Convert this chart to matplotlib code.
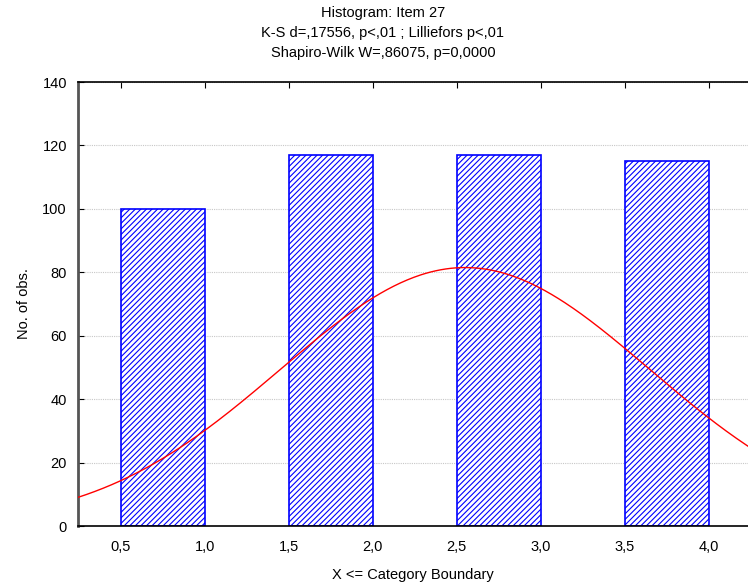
import numpy as np
import matplotlib
matplotlib.use("Agg")
import matplotlib.pyplot as plt
from matplotlib import font_manager

names = {f.name for f in font_manager.fontManager.ttflist}
fam = ['Liberation Sans Narrow'] if 'Liberation Sans Narrow' in names else ['Liberation Sans']
plt.rcParams['font.family'] = fam + ['DejaVu Sans']
plt.rcParams['hatch.color'] = '#0000ff'
plt.rcParams['hatch.linewidth'] = 0.8

# data
bin_left = [0.5, 1.5, 2.5, 3.5]
bin_width = 0.5
counts = [100, 117, 117, 115]
category_values = [1, 2, 3, 4]
xticks = [0.5, 1.0, 1.5, 2.0, 2.5, 3.0, 3.5, 4.0]
xtick_labels = ['0,5', '1,0', '1,5', '2,0', '2,5', '3,0', '3,5', '4,0']
yticks = [0, 20, 40, 60, 80, 100, 120, 140]
title = "Histogram: Item 27\nK-S d=,17556, p<,01 ; Lilliefors p<,01\nShapiro-Wilk W=,86075, p=0,0000"

# fitted normal curve (from the category counts)
vals = np.repeat(category_values, counts)
n = len(vals)
mu = vals.mean()
sd = vals.std(ddof=1)

fig = plt.figure(figsize=(7.48, 5.84), dpi=100)
ax = fig.add_axes([78/748, 1 - 526/584, 1 - 78/748, 444/584])

ax.bar(bin_left, counts, width=bin_width, align='edge', facecolor='white',
       edgecolor='#0000ff', hatch='//////', linewidth=1.2, zorder=2)

xlim = (0.245, 4.235)
xs = np.linspace(xlim[0], xlim[1], 400)
ys = n * bin_width / (sd * np.sqrt(2 * np.pi)) * np.exp(-0.5 * ((xs - mu) / sd) ** 2)
ax.plot(xs, ys, color='#ff0000', linewidth=1.0, zorder=3)

ax.set_xlim(*xlim)
ax.set_ylim(0, 140)
ax.set_xticks(xticks)
ax.set_xticklabels(xtick_labels)
ax.set_yticks(yticks)
ax.yaxis.grid(True, linestyle=(0, (1, 1)), color='#c8c8c8', linewidth=0.8, zorder=0)
ax.set_axisbelow(True)
ax.tick_params(axis='both', direction='in', labelsize=10.5, length=4, pad=8,
               top=True, colors='black')
ax.tick_params(axis='x', bottom=False, pad=10)
ax.spines['right'].set_visible(False)
ax.spines['left'].set_color('#555555')
ax.spines['left'].set_linewidth(2)
ax.spines['bottom'].set_linewidth(1.2)
ax.spines['top'].set_linewidth(1.2)

ax.set_xlabel('X <= Category Boundary', fontsize=10.5, labelpad=10)
ax.set_ylabel('No. of obs.', fontsize=10.5, labelpad=8)
fig.text(0.5 + 0.012, 1 - 6/584, title, ha='center', va='top', fontsize=10.5, linespacing=1.55)

fig.savefig('out.png', dpi=100)
